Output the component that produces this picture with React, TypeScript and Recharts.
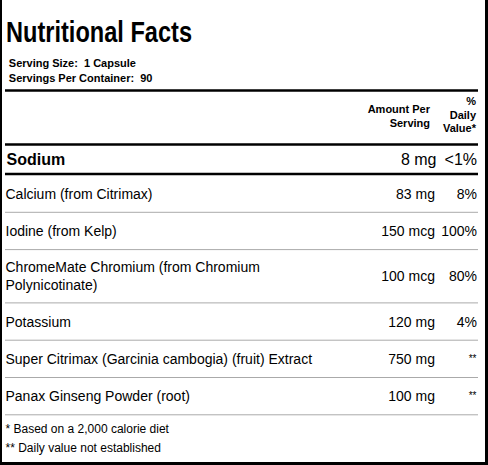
import React from "react";
import { ComposedChart, Customized } from "recharts";

const title = "Nutritional Facts";
const servingLabels = ["Serving Size:", "Servings Per Container:"];
const servingValues = ["1 Capsule", "90"];
const headerAmount = ["Amount Per", "Serving"];
const headerDaily = ["%", "Daily", "Value*"];
const featuredNames = ["Sodium"];
const featuredAmounts = ["8 mg"];
const featuredDaily = ["<1%"];
const nutrientNames = [
  "Calcium (from Citrimax)",
  "Iodine (from Kelp)",
  "ChromeMate Chromium (from Chromium Polynicotinate)",
  "Potassium",
  "Super Citrimax (Garcinia cambogia) (fruit) Extract",
  "Panax Ginseng Powder (root)",
];
const nutrientAmounts = ["83 mg", "150 mcg", "100 mcg", "120 mg", "750 mg", "100 mg"];
const nutrientDaily = ["8%", "100%", "80%", "4%", "**", "**"];
const footnotes = ["* Based on a 2,000 calorie diet", "** Daily value not established"];

const W = 488;
const H = 465;
const FONT = "'Liberation Sans', Arial, Helvetica, sans-serif";

const rows = nutrientNames.map((name, i) => ({
  name,
  amount: nutrientAmounts[i],
  dv: nutrientDaily[i],
}));

function wrap(text: string, width: number, font: string): string[] {
  const ctx = document.createElement("canvas").getContext("2d");
  if (!ctx) return [text];
  ctx.font = font;
  const words = text.split(" ");
  const lines: string[] = [];
  let cur = "";
  for (const w of words) {
    const test = cur ? cur + " " + w : w;
    if (ctx.measureText(test).width > width && cur) {
      lines.push(cur);
      cur = w;
    } else {
      cur = test;
    }
  }
  if (cur) lines.push(cur);
  return lines;
}

function Table() {
  const ruleL = 5;
  const ruleR = 478;
  const amtX = 435;
  const dvX = 477;
  const rowFont = `14px ${FONT}`;
  const elems: React.ReactNode[] = [];
  let top = 175;
  rows.forEach((r, i) => {
    const lines = wrap(r.name, 340, rowFont);
    const h = 21.3 + 16 * lines.length;
    const center = top + h / 2;
    const base = center + 5.2;
    const first = base - ((lines.length - 1) * 18) / 2;
    elems.push(
      <g key={"row" + i}>
        {lines.map((ln, k) => (
          <text key={k} x={5.5} y={first + k * 18} fontSize={14} fontFamily={FONT} fill="#000">
            {ln}
          </text>
        ))}
        <text x={amtX} y={base} fontSize={14} fontFamily={FONT} textAnchor="end" fill="#000">
          {r.amount}
        </text>
        {r.dv === "**" ? (
          <text x={dvX - 0.5} y={base - 2} fontSize={10} fontFamily={FONT} textAnchor="end" fill="#000">
            {r.dv}
          </text>
        ) : (
          <text x={dvX} y={base} fontSize={14} fontFamily={FONT} textAnchor="end" fill="#000">
            {r.dv}
          </text>
        )}
        <line x1={ruleL} x2={ruleR} y1={top + h} y2={top + h} stroke="#aaaaaa" strokeWidth={1} />
      </g>
    );
    top += h;
  });

  return (
    <g>
      <rect x={0} y={0} width={W} height={H} fill="#ffffff" />
      <rect x={0} y={0} width={2} height={H} fill="#000" />
      <rect x={485} y={0} width={3} height={H} fill="#000" />
      <rect x={0} y={462} width={W} height={3} fill="#000" />

      <text
        x={6}
        y={41.7}
        fontSize={29}
        fontWeight="bold"
        fontFamily={FONT}
        textLength={186}
        lengthAdjust="spacingAndGlyphs"
        fill="#000"
      >
        {title}
      </text>
      {servingLabels.map((lab, i) => (
        <text
          key={lab}
          x={8.8}
          y={67 + i * 15.3}
          fontSize={11}
          fontWeight="bold"
          fontFamily={FONT}
          fill="#000"
          xmlSpace="preserve"
          style={{ whiteSpace: "pre" }}
        >
          {lab + "  " + servingValues[i]}
        </text>
      ))}
      <line x1={ruleL} x2={ruleR} y1={90.5} y2={90.5} stroke="#000" strokeWidth={2.5} />

      {headerAmount.map((t, i) => (
        <text key={t} x={430} y={113.3 + i * 13.4} fontSize={11} fontWeight="bold" fontFamily={FONT} textAnchor="end" fill="#000">
          {t}
        </text>
      ))}
      {headerDaily.map((t, i) => (
        <text key={t} x={476} y={105 + i * 13.7} fontSize={11} fontWeight="bold" fontFamily={FONT} textAnchor="end" fill="#000">
          {t}
        </text>
      ))}
      <line x1={ruleL} x2={ruleR} y1={144.5} y2={144.5} stroke="#000" strokeWidth={2.5} />

      {featuredNames.map((n, i) => (
        <g key={n}>
          <text x={6.5} y={164.5} fontSize={16} fontWeight="bold" fontFamily={FONT} fill="#000">
            {n}
          </text>
          <text x={436.5} y={164.5} fontSize={16} fontFamily={FONT} textAnchor="end" fill="#000">
            {featuredAmounts[i]}
          </text>
          <text x={dvX} y={164.5} fontSize={16} fontFamily={FONT} textAnchor="end" fill="#000">
            {featuredDaily[i]}
          </text>
        </g>
      ))}
      <line x1={ruleL} x2={ruleR} y1={173.9} y2={173.9} stroke="#000" strokeWidth={2.5} />

      {elems}

      {footnotes.map((f, i) => (
        <text key={f} x={5.5} y={432.5 + i * 19.8} fontSize={12} fontFamily={FONT} fill="#000">
          {f}
        </text>
      ))}
    </g>
  );
}

export default function App() {
  return (
    <div style={{ width: W, height: H }}>
      <style>{"body{margin:0;}"}</style>
      <ComposedChart width={W} height={H} data={rows} margin={{ top: 0, right: 0, bottom: 0, left: 0 }}>
        <Customized component={<Table />} />
      </ComposedChart>
    </div>
  );
}
